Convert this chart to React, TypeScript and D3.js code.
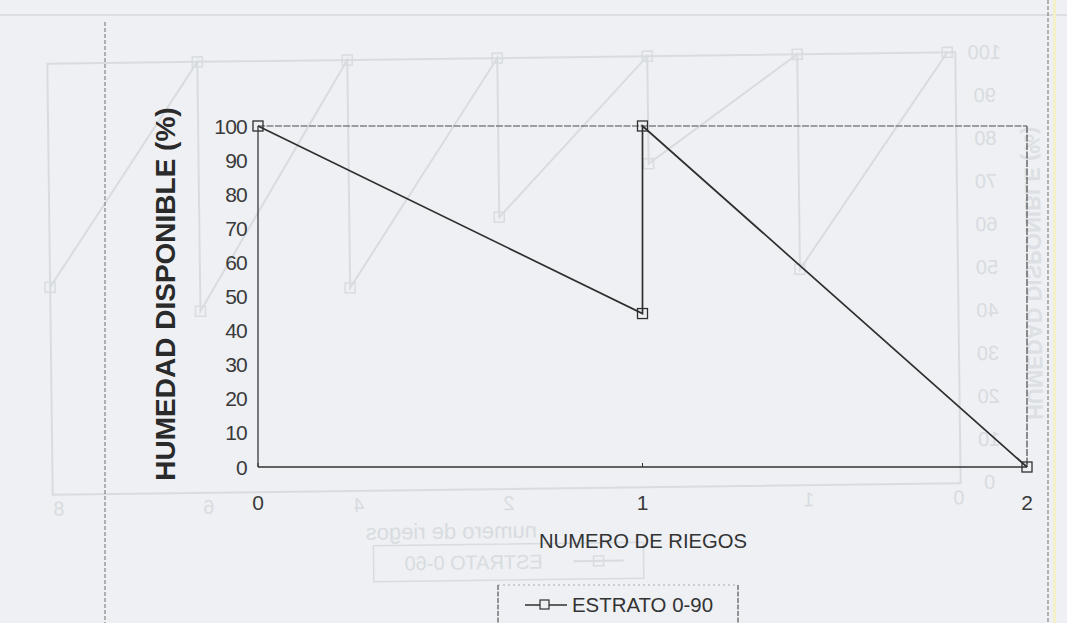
import React from "react";
import * as d3 from "d3";

// Main series: available soil moisture vs. number of irrigations
const riegos = [0, 1, 1, 2];
const humedad = [100, 45, 100, 0];
const yTicks = [0, 10, 20, 30, 40, 50, 60, 70, 80, 90, 100];
const xTicks = [0, 1, 2];
const serieNombre = "ESTRATO 0-90";

// Faint chart printed on the reverse side of the sheet (shows through, mirrored)
const reversoRiegos = [0, 1, 1, 2, 2, 3, 3, 4, 4, 5, 5, 6];
const reversoHumedad = [100, 50, 100, 75, 100, 63, 100, 47, 100, 42, 100, 48];
const reversoTicksX = ["0", "1", "", "2", "4", "6", "8"];
const reversoNombre = "ESTRATO 0-60";

const W = 1067;
const H = 623;
const FONT = "'Liberation Sans', Arial, Helvetica, sans-serif";
const INK = "#2f2f2f";
const GHOST = "#d8dce0";
const BG = "#eef0f3";

export default function App() {
  const x = d3.scaleLinear().domain([0, 2]).range([258, 1027]);
  const y = d3.scaleLinear().domain([0, 100]).range([467, 126]);
  const pts = riegos.map((r, i) => [r, humedad[i]] as [number, number]);
  const line = d3
    .line<[number, number]>()
    .x((d) => x(d[0]))
    .y((d) => y(d[1]));

  const gx = d3.scaleLinear().domain([0, 6]).range([950, 50]);
  const gy = d3.scaleLinear().domain([0, 100]).range([488, 58]);
  const gpts = reversoRiegos.map((r, i) => [r, reversoHumedad[i]] as [number, number]);
  const gline = d3
    .line<[number, number]>()
    .x((d) => gx(d[0]))
    .y((d) => gy(d[1]));

  const mirror = (cx: number, cy: number) => `translate(${cx},${cy}) scale(-1,1)`;

  return (
    <svg
      width={W}
      height={H}
      viewBox={`0 0 ${W} ${H}`}
      style={{ position: "fixed", left: 0, top: 0, display: "block" }}
      fontFamily={FONT}
    >
      <rect x={0} y={0} width={W} height={H} fill={BG} />

      {/* show-through from the reverse side */}
      <g transform="rotate(-0.72, 505, 275)">
        <rect x={50} y={58} width={908} height={431} fill="none" stroke={GHOST} strokeWidth={2} />
        <path d={gline(gpts) ?? ""} fill="none" stroke={GHOST} strokeWidth={2} />
        {gpts.map((d, i) => (
          <rect
            key={i}
            x={gx(d[0]) - 5}
            y={gy(d[1]) - 5}
            width={10}
            height={10}
            fill="none"
            stroke={GHOST}
            strokeWidth={1.5}
          />
        ))}
        {yTicks.map((t) => (
          <text
            key={t}
            transform={mirror(987, gy(t) + 7)}
            textAnchor="middle"
            fontSize={20}
            fill={GHOST}
          >
            {t}
          </text>
        ))}
        {reversoTicksX.map((t, i) => (
          <text
            key={i}
            transform={mirror(gx(i) + 6, 510)}
            textAnchor="middle"
            fontSize={20}
            fill={GHOST}
          >
            {t}
          </text>
        ))}
        <text
          transform={`translate(1026,280) scale(-1,1) rotate(-90)`}
          textAnchor="middle"
          fontSize={22}
          fontWeight="bold"
          fill={GHOST}
          opacity={0.8}
        >
          HUMEDAD DISPONIBLE (%)
        </text>
        <text transform={mirror(448, 538)} textAnchor="middle" fontSize={22} fill={GHOST}>
          numero de riegos
        </text>
        <rect x={370} y={544} width={270} height={36} fill="none" stroke={GHOST} strokeWidth={1.5} />
        <text transform={mirror(470, 569)} textAnchor="middle" fontSize={20} fill={GHOST}>
          {reversoNombre}
        </text>
        <line x1={570} x2={620} y1={562} y2={562} stroke={GHOST} strokeWidth={2} />
        <rect x={590} y={557} width={10} height={10} fill="none" stroke={GHOST} strokeWidth={1.5} />
      </g>

      {/* page edges */}
      <line x1={0} x2={W} y1={15} y2={15} stroke="#d6d9dd" strokeWidth={1.5} />
      <line x1={105} x2={105} y1={22} y2={H} stroke="#6f6f6f" strokeWidth={1} strokeDasharray="4 2" />
      <line x1={1048} x2={1048} y1={0} y2={H} stroke="#707070" strokeWidth={1} strokeDasharray="4 2" />
      <rect x={1053} y={0} width={3} height={H} fill="#f4f0c8" />

      {/* plot frame */}
      <line x1={x(0)} x2={x(2)} y1={y(100)} y2={y(100)} stroke="#4a4a4a" strokeWidth={1.2} strokeDasharray="7 1.5" />
      <line x1={x(2)} x2={x(2)} y1={y(100)} y2={y(0)} stroke="#4a4a4a" strokeWidth={1.2} strokeDasharray="7 1.5" />
      <line x1={x(0)} x2={x(0)} y1={y(100)} y2={y(0)} stroke="#3a3a3a" strokeWidth={1.3} />
      <line x1={x(0)} x2={x(2)} y1={y(0)} y2={y(0)} stroke="#333" strokeWidth={1.6} />
      {xTicks.map((t) => (
        <line key={t} x1={x(t)} x2={x(t)} y1={y(0)} y2={y(0) - 4} stroke="#333" strokeWidth={1} />
      ))}

      {/* y axis labels */}
      {yTicks.map((t) => (
        <text key={t} x={247} y={y(t) + 7.5} textAnchor="end" fontSize={21} fill="#3a3a3a" letterSpacing={-0.8}>
          {t}
        </text>
      ))}
      <text
        transform={`translate(175,294) rotate(-90)`}
        textAnchor="middle"
        fontSize={28}
        fontWeight="bold"
        fill="#2a2a2a"
      >
        HUMEDAD DISPONIBLE (%)
      </text>

      {/* x axis labels */}
      {xTicks.map((t) => (
        <text key={t} x={x(t)} y={510} textAnchor="middle" fontSize={21} fill="#3a3a3a">
          {t}
        </text>
      ))}
      <text
        x={643}
        y={548}
        textAnchor="middle"
        fontSize={21}
        fill="#333"
        textLength={208}
        lengthAdjust="spacingAndGlyphs"
      >
        NUMERO DE RIEGOS
      </text>

      {/* series */}
      <path d={line(pts) ?? ""} fill="none" stroke={INK} strokeWidth={1.7} />
      {pts.map((d, i) => (
        <rect
          key={i}
          x={x(d[0]) - 5}
          y={y(d[1]) - 5}
          width={10}
          height={10}
          fill="none"
          stroke={INK}
          strokeWidth={1.3}
        />
      ))}

      {/* legend */}
      <line x1={498} x2={498} y1={585} y2={H} stroke="#555" strokeWidth={1.2} strokeDasharray="5 1.5" />
      <line x1={738} x2={738} y1={585} y2={H} stroke="#555" strokeWidth={1.2} strokeDasharray="5 1.5" />
      <line x1={498} x2={738} y1={585} y2={585} stroke="#9a9a9a" strokeWidth={0.8} strokeDasharray="2 3" />
      <line x1={525} x2={567} y1={605} y2={605} stroke={INK} strokeWidth={1.5} />
      <rect x={540} y={600} width={9} height={9} fill={BG} stroke={INK} strokeWidth={1.2} />
      <text x={572} y={612} fontSize={20} fill="#333" textLength={141} lengthAdjust="spacingAndGlyphs">
        {serieNombre}
      </text>
    </svg>
  );
}
